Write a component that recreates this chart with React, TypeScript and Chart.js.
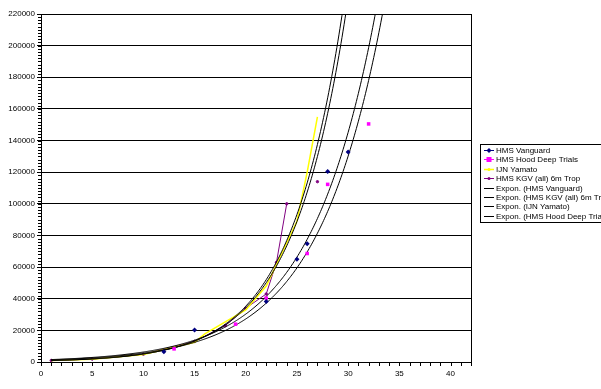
import React, { useEffect, useRef } from 'react';
import { Chart, registerables } from 'chart.js';

Chart.register(...registerables);

// ---- Data ----
const seriesNames = ['HMS Vanguard', 'HMS Hood Deep Trials', 'IJN Yamato', 'HMS KGV (all) 6m Trop'];

const vanguardX = [12, 15, 22, 25, 26, 28, 30];
const vanguardY = [6500, 20300, 38200, 65000, 74800, 120500, 132800];

const hoodX = [13, 19, 22, 26, 28, 32];
const hoodY = [8300, 23900, 40400, 68600, 112300, 150500];

const yamatoX = [1, 5, 10, 15, 16, 20, 22, 25, 26, 27];
const yamatoY = [1000, 1800, 4700, 12500, 17800, 33000, 48000, 89000, 120000, 155000];

// null = blank cell (line break) before the isolated 27-knot reading
const kgvX = [1, 5, 10, 15, 18, 20, 22, 23, 24, 25, 27];
const kgvY: (number | null)[] = [1000, 1850, 4900, 13000, 23000, 34000, 43000, 63000, 100000, null, 114000];

const xTicks = [0, 5, 10, 15, 20, 25, 30, 35, 40];
const yTicks = [0, 20000, 40000, 60000, 80000, 100000, 120000, 140000, 160000, 180000, 200000, 220000];
const X_MIN = 0;
const X_MAX = 42;
const Y_MIN = 0;
const Y_MAX = 220000;
const X_MINOR = 1;
const Y_MINOR = 2000;
const TREND_START = 1;

// ---- Exponential trendline (least squares on ln y, as Excel does) ----
function expFit(xs: number[], ys: (number | null)[]) {
  let n = 0, sx = 0, sy = 0, sxx = 0, sxy = 0;
  for (let i = 0; i < xs.length; i++) {
    const yv = ys[i];
    if (yv == null) continue;
    const lx = xs[i];
    const ly = Math.log(yv);
    n++; sx += lx; sy += ly; sxx += lx * lx; sxy += lx * ly;
  }
  const b = (n * sxy - sx * sy) / (n * sxx - sx * sx);
  const lnA = (sy - b * sx) / n;
  return { a: Math.exp(lnA), b };
}

function trendPoints(xs: number[], ys: (number | null)[]) {
  const { a, b } = expFit(xs, ys);
  const pts: { x: number; y: number }[] = [];
  for (let x = TREND_START; x <= X_MAX; x += 0.1) {
    const y = a * Math.exp(b * x);
    pts.push({ x, y });
    if (y > Y_MAX * 1.3) break;
  }
  return pts;
}

const toPts = (xs: number[], ys: (number | null)[]) => xs.map((x, i) => ({ x, y: ys[i] }));

const FONT = { family: '"Liberation Sans", Arial, sans-serif', size: 8 };

type LegendEntry = { label: string; color: string; marker: 'diamond' | 'square' | 'dot' | 'none'; lineColor: string; lineWidth: number };

const legendEntries: LegendEntry[] = [
  { label: seriesNames[0], color: '#000080', marker: 'diamond', lineColor: '#000080', lineWidth: 1 },
  { label: seriesNames[1], color: '#FF00FF', marker: 'square', lineColor: '#FF00FF', lineWidth: 1 },
  { label: seriesNames[2], color: '#FFFF00', marker: 'dot', lineColor: '#FFFF00', lineWidth: 1.5 },
  { label: seriesNames[3], color: '#800080', marker: 'dot', lineColor: '#800080', lineWidth: 1 },
  { label: `Expon. (${seriesNames[0]})`, color: '#000', marker: 'none', lineColor: '#000', lineWidth: 1 },
  { label: `Expon. (${seriesNames[3]})`, color: '#000', marker: 'none', lineColor: '#000', lineWidth: 1 },
  { label: `Expon. (${seriesNames[2]})`, color: '#000', marker: 'none', lineColor: '#000', lineWidth: 1 },
  { label: `Expon. (${seriesNames[1]})`, color: '#000', marker: 'none', lineColor: '#000', lineWidth: 1 },
];

const decorPlugin = {
  id: 'excelDecor',
  afterDraw(chart: any) {
    const { ctx, chartArea, scales } = chart;
    const x = scales.x;
    const y = scales.y;
    ctx.save();
    ctx.strokeStyle = '#000';
    ctx.lineWidth = 1;
    ctx.beginPath();
    // y minor ticks
    for (let v = Y_MIN; v <= Y_MAX; v += Y_MINOR) {
      const py = Math.round(y.getPixelForValue(v)) + 0.5;
      ctx.moveTo(chartArea.left - 3, py);
      ctx.lineTo(chartArea.left, py);
    }
    // x ticks
    for (let v = X_MIN; v <= X_MAX; v += X_MINOR) {
      const px = Math.round(x.getPixelForValue(v)) + 0.5;
      ctx.moveTo(px, chartArea.bottom);
      ctx.lineTo(px, chartArea.bottom + 4);
    }
    // right border of plot area
    const rx = Math.round(chartArea.right) + 0.5;
    ctx.moveTo(rx, Math.round(chartArea.top));
    ctx.lineTo(rx, Math.round(chartArea.bottom) + 1);
    ctx.stroke();

    // legend
    const boxL = 480.5, boxT = 144.5, boxH = 78;
    ctx.strokeRect(boxL, boxT, 200, boxH);
    ctx.font = `${FONT.size}px ${FONT.family}`;
    ctx.textBaseline = 'middle';
    ctx.textAlign = 'left';
    const rowH = 9.4;
    legendEntries.forEach((e, i) => {
      const cy = Math.round(150 + i * rowH) + 0.5;
      ctx.strokeStyle = e.lineColor;
      ctx.lineWidth = e.lineWidth;
      ctx.beginPath();
      ctx.moveTo(484, cy);
      ctx.lineTo(494, cy);
      ctx.stroke();
      ctx.fillStyle = e.color;
      const mx = 489;
      if (e.marker === 'diamond') {
        ctx.beginPath();
        ctx.moveTo(mx, cy - 2.5); ctx.lineTo(mx + 2.5, cy); ctx.lineTo(mx, cy + 2.5); ctx.lineTo(mx - 2.5, cy); ctx.closePath();
        ctx.fill();
      } else if (e.marker === 'square') {
        ctx.fillRect(mx - 2.5, cy - 2.5, 5, 5);
      } else if (e.marker === 'dot') {
        ctx.beginPath(); ctx.arc(mx, cy, 1.5, 0, Math.PI * 2); ctx.fill();
      }
      ctx.fillStyle = '#000';
      ctx.fillText(e.label, 496, cy);
    });
    ctx.restore();
  },
};

export default function App() {
  const ref = useRef<HTMLCanvasElement | null>(null);

  useEffect(() => {
    if (!ref.current) return;
    const trendCommon = { showLine: true, borderColor: '#000', borderWidth: 1, pointRadius: 0, order: 1, tension: 0 };
    const chart = new Chart(ref.current, {
      type: 'scatter',
      data: {
        datasets: [
          { label: seriesNames[0], data: toPts(vanguardX, vanguardY), showLine: false, pointStyle: 'rectRot', pointRadius: 2.5, backgroundColor: '#000080', borderColor: '#000080', borderWidth: 0, order: 0 },
          { label: seriesNames[1], data: toPts(hoodX, hoodY), showLine: false, pointStyle: 'rect', pointRadius: 2.5, backgroundColor: '#FF00FF', borderColor: '#FF00FF', borderWidth: 0, order: 0 },
          { label: seriesNames[2], data: toPts(yamatoX, yamatoY), showLine: true, borderColor: '#FFFF00', borderWidth: 1.5, pointRadius: 0, order: 2 },
          { label: seriesNames[3], data: toPts(kgvX, kgvY), showLine: true, spanGaps: false, borderColor: '#800080', backgroundColor: '#800080', borderWidth: 1, pointRadius: 1.2, order: 2 },
          { label: `Expon. (${seriesNames[0]})`, data: trendPoints(vanguardX, vanguardY), ...trendCommon },
          { label: `Expon. (${seriesNames[3]})`, data: trendPoints(kgvX, kgvY), ...trendCommon },
          { label: `Expon. (${seriesNames[2]})`, data: trendPoints(yamatoX, yamatoY), ...trendCommon },
          { label: `Expon. (${seriesNames[1]})`, data: trendPoints(hoodX, hoodY), ...trendCommon },
        ] as any,
      },
      options: {
        responsive: false,
        animation: false,
        devicePixelRatio: 1,
        layout: { padding: { left: 0, top: 14, right: 130, bottom: 7 } },
        plugins: { legend: { display: false }, tooltip: { enabled: false } },
        scales: {
          x: {
            type: 'linear',
            min: X_MIN,
            max: X_MAX,
            afterBuildTicks: (s: any) => { s.ticks = xTicks.map((v) => ({ value: v })); },
            afterFit: (s: any) => { s.height = 20; },
            ticks: { font: FONT, color: '#000', padding: 7, maxRotation: 0, autoSkip: false, callback: (v: any) => String(v) },
            grid: { display: false, drawTicks: false },
            border: { display: true, color: '#000', width: 1 },
          },
          y: {
            type: 'linear',
            min: Y_MIN,
            max: Y_MAX,
            afterBuildTicks: (s: any) => { s.ticks = yTicks.map((v) => ({ value: v })); },
            afterFit: (s: any) => { s.width = 41; },
            ticks: { font: FONT, color: '#000', padding: 2, autoSkip: false, callback: (v: any) => String(v) },
            grid: { color: '#000', lineWidth: 1, drawTicks: true, tickLength: 4, tickColor: '#000' },
            border: { display: true, color: '#000', width: 1 },
          },
        },
      } as any,
      plugins: [decorPlugin],
    });
    return () => chart.destroy();
  }, []);

  return (
    <div style={{ position: 'absolute', left: 0, top: 0, width: 601, height: 389, background: '#fff', overflow: 'hidden' }}>
      <canvas ref={ref} width={601} height={389} style={{ display: 'block', width: 601, height: 389 }} />
    </div>
  );
}
